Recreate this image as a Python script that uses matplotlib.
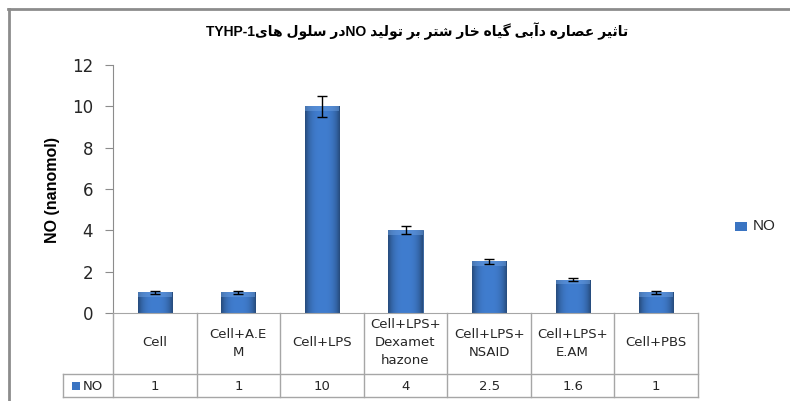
import numpy as np
import matplotlib
matplotlib.use("Agg")
import matplotlib.pyplot as plt
from matplotlib.lines import Line2D
from matplotlib.patches import Rectangle

# data
categories = ["Cell", "Cell+A.E\nM", "Cell+LPS", "Cell+LPS+\nDexamet\nhazone",
              "Cell+LPS+\nNSAID", "Cell+LPS+\nE.AM", "Cell+PBS"]
no_values = [1, 1, 10, 4, 2.5, 1.6, 1]
no_errors = [0.08, 0.08, 0.5, 0.2, 0.12, 0.07, 0.08]
value_labels = ["1", "1", "10", "4", "2.5", "1.6", "1"]
series_name = "NO"
y_label = "NO (nanomol)"
y_ticks = [0, 2, 4, 6, 8, 10, 12]

# Persian title (logical order), shaped by hand because matplotlib has no bidi/shaping
title_fa_1 = "تاثیر عصاره دآبی گیاه خار شتر بر تولید "
title_fa_2 = "در سلول های"

FORMS = {
    'ا': ('\uFE8D', '\uFE8E'), 'آ': ('\uFE81', '\uFE82'),
    'د': ('\uFEA9', '\uFEAA'), 'ر': ('\uFEAD', '\uFEAE'), 'و': ('\uFEED', '\uFEEE'),
    'ب': ('\uFE8F', '\uFE90', '\uFE91', '\uFE92'),
    'ت': ('\uFE95', '\uFE96', '\uFE97', '\uFE98'),
    'ث': ('\uFE99', '\uFE9A', '\uFE9B', '\uFE9C'),
    'خ': ('\uFEA5', '\uFEA6', '\uFEA7', '\uFEA8'),
    'س': ('\uFEB1', '\uFEB2', '\uFEB3', '\uFEB4'),
    'ش': ('\uFEB5', '\uFEB6', '\uFEB7', '\uFEB8'),
    'ص': ('\uFEB9', '\uFEBA', '\uFEBB', '\uFEBC'),
    'ع': ('\uFEC9', '\uFECA', '\uFECB', '\uFECC'),
    'ل': ('\uFEDD', '\uFEDE', '\uFEDF', '\uFEE0'),
    'ه': ('\uFEE9', '\uFEEA', '\uFEEB', '\uFEEC'),
    'ی': ('\uFBFC', '\uFBFD', '\uFBFE', '\uFBFF'),
    'گ': ('\uFB92', '\uFB93', '\uFB94', '\uFB95'),
}


def shape(text):
    out = []
    for i, ch in enumerate(text):
        f = FORMS.get(ch)
        if f is None:
            out.append(ch)
            continue
        prev = text[i - 1] if i > 0 else ''
        nxt = text[i + 1] if i + 1 < len(text) else ''
        jp = prev in FORMS and len(FORMS[prev]) == 4
        jn = len(f) == 4 and nxt in FORMS
        out.append(f[{(False, False): 0, (True, False): 1,
                      (False, True): 2, (True, True): 3}[(jp, jn)]])
    return ''.join(out)[::-1]


title = "TYHP-1" + shape(title_fa_2) + "NO" + shape(title_fa_1)

W, H = 790, 401
fig = plt.figure(figsize=(W / 100, H / 100), dpi=100)


def fx(px):
    return px / W


def fy(py):
    return 1 - py / H


ax_l, ax_r, ax_t, ax_b = 113, 698, 65, 313
ax = fig.add_axes([fx(ax_l), fy(ax_b), fx(ax_r - ax_l), (ax_b - ax_t) / H])

x = np.arange(len(categories))
bars = ax.bar(x, no_values, width=0.41, color="#3a74c2", edgecolor="#2b5a96",
              linewidth=0.6, zorder=2)

# bevel-like shading on each bar
t = np.linspace(0, 1, 64)
prof = 1 - 0.4 * np.abs(2 * t - 1) ** 3
base = np.array([0.25, 0.49, 0.81])
grad = (prof[None, :, None] * base[None, None, :]).repeat(2, axis=0)
for b in bars:
    im = ax.imshow(grad, extent=[b.get_x(), b.get_x() + b.get_width(), 0, b.get_height()],
                   aspect="auto", zorder=2.1, interpolation="bilinear")
    im.set_clip_path(b)
    top = Rectangle((b.get_x(), b.get_height() - 0.22), b.get_width(), 0.22,
                    color="#6a9ee0", alpha=0.5, zorder=2.2, lw=0)
    ax.add_patch(top)
    top.set_clip_path(b)

ax.errorbar(x, no_values, yerr=no_errors, fmt="none", ecolor="black",
            elinewidth=1.0, capsize=3.6, capthick=1.0, zorder=3)

ax.set_xlim(-0.5, len(categories) - 0.5)
ax.set_ylim(0, 12)
ax.set_yticks(y_ticks)
ax.set_xticks([])
for s in ["top", "right"]:
    ax.spines[s].set_visible(False)
ax.spines["left"].set_color("#8c8c8c")
ax.spines["bottom"].set_color("#a6a6a6")
ax.tick_params(axis="y", direction="out", length=5.8, color="#8c8c8c",
               pad=8.5, labelsize=12, labelcolor="#262626")
for lab in ax.get_yticklabels():
    lab.set_family("DejaVu Sans")

fig.text(fx(52), fy(190), y_label, rotation=90, ha="center", va="center",
         fontsize=11.5, fontweight="bold", family=["Liberation Sans", "DejaVu Sans"])

fig.text(fx(417), fy(31), title, ha="center", va="center", fontsize=10,
         fontweight="bold", family=["Liberation Sans", "DejaVu Sans"])

# data table below the axis
grid_c = "#a6a6a6"
col_w = (ax_r - ax_l) / len(categories)
for k in range(len(categories) + 1):
    px = ax_l + k * col_w
    fig.add_artist(Line2D([fx(px)] * 2, [fy(313), fy(397)], color=grid_c, lw=1.0))
fig.add_artist(Line2D([fx(63)] * 2, [fy(374), fy(397)], color=grid_c, lw=1.0))
for py in (374, 397):
    fig.add_artist(Line2D([fx(63), fx(ax_r)], [fy(py)] * 2, color=grid_c, lw=1.0))

for i, (cat, val) in enumerate(zip(categories, value_labels)):
    cx = ax_l + (i + 0.5) * col_w
    fig.text(fx(cx), fy(343), cat, ha="center", va="center", fontsize=9.5,
             color="#262626", family="DejaVu Sans", linespacing=1.5)
    fig.text(fx(cx), fy(386), val, ha="center", va="center", fontsize=9.5,
             color="#262626", family="DejaVu Sans")

fig.add_artist(Rectangle((fx(72), fy(390)), fx(8), 8 / H, color="#3a74c2", lw=0))
fig.text(fx(83), fy(386), series_name, ha="left", va="center", fontsize=9.5,
         color="#262626", family="DejaVu Sans")

# legend on the right
fig.add_artist(Rectangle((fx(735), fy(231)), fx(12), 9 / H, color="#3a74c2", lw=0))
fig.text(fx(753), fy(226), series_name, ha="left", va="center", fontsize=11,
         color="#262626", family=["Liberation Sans", "DejaVu Sans"])

# chart frame (cut off at right and bottom)
fig.add_artist(Line2D([fx(8), 1], [fy(9)] * 2, color="#8c8c8c", lw=2.0))
fig.add_artist(Line2D([fx(9)] * 2, [fy(9), 0], color="#8c8c8c", lw=2.0))

fig.savefig("out.png", dpi=100)
